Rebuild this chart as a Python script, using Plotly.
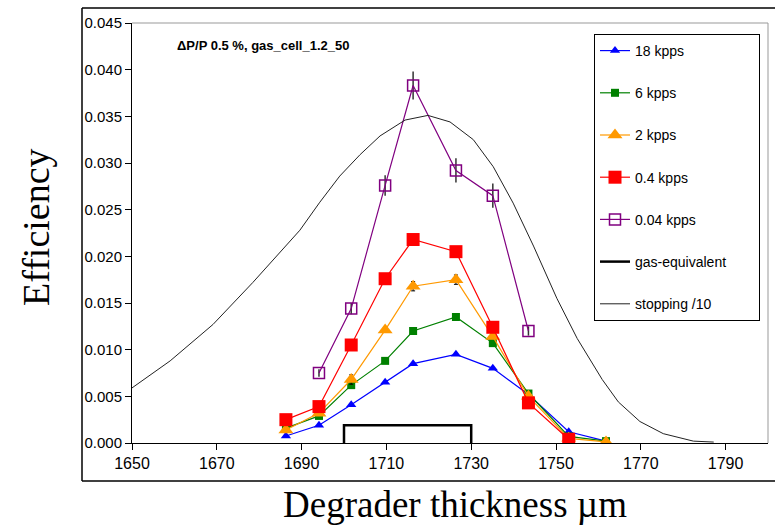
import plotly.graph_objects as go

# Degrader thickness (um) for the measured points
x_meas = [1686.3, 1694.1, 1701.7, 1709.7, 1716.3, 1726.4, 1735.1, 1743.5, 1753.0, 1761.8]

eff_18k = [0.00075, 0.0019, 0.0041, 0.0065, 0.0085, 0.0095, 0.0080, 0.0052, 0.0012, 0.0002]
eff_6k = [0.0016, 0.0029, 0.0062, 0.0088, 0.0120, 0.0135, 0.0107, 0.0053, 0.0007, 0.0002]
eff_2k = [0.0014, 0.0032, 0.0068, 0.0121, 0.0168, 0.0175, 0.0114, 0.0050, 0.0005, 0.00012]
eff_2k_err = [0, 0, 0.0005, 0, 0.0005, 0.0005, 0, 0, 0, 0]

x_04k = [1686.3, 1694.1, 1701.7, 1709.7, 1716.3, 1726.4, 1735.1, 1743.5, 1753.0]
eff_04k = [0.0025, 0.0039, 0.0105, 0.0176, 0.0218, 0.0205, 0.0124, 0.0043, 0.0004]

x_004k = [1694.1, 1701.7, 1709.7, 1716.3, 1726.4, 1735.1, 1743.5]
eff_004k = [0.0075, 0.0144, 0.0276, 0.0383, 0.0292, 0.0265, 0.0120]
eff_004k_err = [0.0004, 0.0006, 0.0011, 0.0015, 0.0013, 0.0013, 0.0005]

gas_x = [1700, 1700, 1730, 1730]
gas_y = [0.0, 0.0019, 0.0019, 0.0]

stop_x = [1650, 1659.0, 1669.1, 1678.5, 1689.6, 1694.3, 1699.0, 1703.8, 1708.5, 1714.4,
          1719.8, 1725.0, 1730.5, 1735.2, 1739.9, 1744.7, 1750.2, 1755.0, 1760.9, 1764.7,
          1769.8, 1775.3, 1782.4, 1787.2]
stop_y = [0.0059, 0.0088, 0.0127, 0.0172, 0.0228, 0.0258, 0.0286, 0.0309, 0.0329, 0.0346,
          0.0351, 0.0344, 0.0325, 0.0296, 0.0257, 0.0211, 0.0155, 0.0112, 0.0068, 0.0044,
          0.0023, 0.0010, 0.0002, 0.0001]

x_tick_vals = [1650, 1670, 1690, 1710, 1730, 1750, 1770, 1790]
y_tick_vals = [0.000, 0.005, 0.010, 0.015, 0.020, 0.025, 0.030, 0.035, 0.040, 0.045]

fig = go.Figure()

def add(name, xs, ys, color, symbol, size, lw=1.2, mline=None, err=None, errcol='black', errw=0, errth=1.5):
    tr = dict(x=xs, y=ys, name=name, mode='lines+markers', legendgroup=name,
              line=dict(color=color, width=lw),
              marker=dict(symbol=symbol, size=size, color=color,
                          line=dict(color=color, width=mline if mline else 0)))
    if err is not None:
        tr['error_y'] = dict(type='data', array=err, visible=True, color=errcol,
                             thickness=errth, width=errw)
    fig.add_trace(go.Scatter(**tr))

add('18 kpps', x_meas, eff_18k, '#0000FF', 'triangle-up', 9)
add('6 kpps', x_meas, eff_6k, '#008000', 'square', 8)
add('2 kpps', x_meas, eff_2k, '#FF9900', 'triangle-up', 13, err=eff_2k_err, errw=2, errth=1)
add('0.4 kpps', x_04k, eff_04k, '#FF0000', 'square', 13)
add('0.04 kpps', x_004k, eff_004k, '#800080', 'square-open', 11, mline=1.5,
    err=eff_004k_err, errcol='#333333', errw=0, errth=1.5)

NBSP = '\u00a0'
fig.add_trace(go.Scatter(x=gas_x, y=gas_y, name='gas-equivalent' + NBSP * 7, mode='lines',
                         legendgroup='gas', line=dict(color='black', width=2.5)))
fig.add_trace(go.Scatter(x=stop_x, y=stop_y, name='stopping /10', mode='lines',
                         legendgroup='stop', line=dict(color='#222222', width=1)))

L, T, W, H = 132, 23, 636, 420
fig.update_layout(
    width=775, height=527,
    margin=dict(l=L, r=775 - L - W, t=T, b=527 - T - H, pad=0),
    paper_bgcolor='white', plot_bgcolor='white',
    font=dict(family='Arial, Liberation Sans, sans-serif', color='black'),
    showlegend=True,
    legend=dict(x=(594 - L) / W, y=1 - (34 - T) / H, xanchor='left', yanchor='top',
                bordercolor='black', borderwidth=1, bgcolor='white',
                font=dict(size=14, family='Arial, Liberation Sans'),
                tracegroupgap=21, traceorder='grouped'),
    xaxis=dict(range=[1650, 1800], tickmode='array', tickvals=x_tick_vals,
               ticktext=[str(v) for v in x_tick_vals],
               showgrid=False, zeroline=False, showline=True, linecolor='black', linewidth=1,
               ticks='outside', ticklen=6, tickcolor='black',
               tickfont=dict(size=16, family='Arial, Liberation Sans')),
    yaxis=dict(range=[0, 0.045], tickmode='array', tickvals=y_tick_vals,
               ticktext=[f'{v:.3f}' for v in y_tick_vals],
               showgrid=False, zeroline=False, showline=True, linecolor='black', linewidth=1,
               ticks='outside', ticklen=6, tickcolor='black',
               tickfont=dict(size=15, family='Arial, Liberation Sans')),
)

# plot area top/right border (gray)
fig.add_shape(type='line', xref='paper', yref='paper', x0=0, x1=1, y0=1, y1=1,
              line=dict(color='#999999', width=1))
fig.add_shape(type='line', xref='paper', yref='paper', x0=1, x1=1, y0=0, y1=1,
              line=dict(color='#999999', width=1))
# outer chart frame
def px2paper_x(px):
    return (px - L) / W
def py2paper_y(py):
    return (T + H - py) / H
fx0, fy0, fy1 = px2paper_x(82), py2paper_y(8), py2paper_y(481)
fx1 = px2paper_x(780)
for (a, b, c, d) in [(fx0, fy0, fx1, fy0), (fx0, fy1, fx1, fy1), (fx0, fy0, fx0, fy1)]:
    fig.add_shape(type='line', xref='paper', yref='paper', x0=a, y0=b, x1=c, y1=d,
                  line=dict(color='black', width=1.5))

fig.add_annotation(text='<b>ΔP/P 0.5 %, gas_cell_1.2_50</b>', xref='paper', yref='paper',
                   x=px2paper_x(175), y=py2paper_y(45), xanchor='left', yanchor='middle',
                   showarrow=False, font=dict(size=13, family='Arial, Liberation Sans'))
fig.add_annotation(text='Efficiency', xref='paper', yref='paper',
                   x=px2paper_x(36), y=py2paper_y(227), xanchor='center', yanchor='middle',
                   textangle=-90, showarrow=False,
                   font=dict(size=38, family='Times New Roman, Liberation Serif, serif'))
fig.add_annotation(text='Degrader thickness µm', xref='paper', yref='paper',
                   x=px2paper_x(455), y=py2paper_y(505), xanchor='center', yanchor='middle',
                   showarrow=False,
                   font=dict(size=37, family='Times New Roman, Liberation Serif, serif'))

fig.write_html('out.html')
